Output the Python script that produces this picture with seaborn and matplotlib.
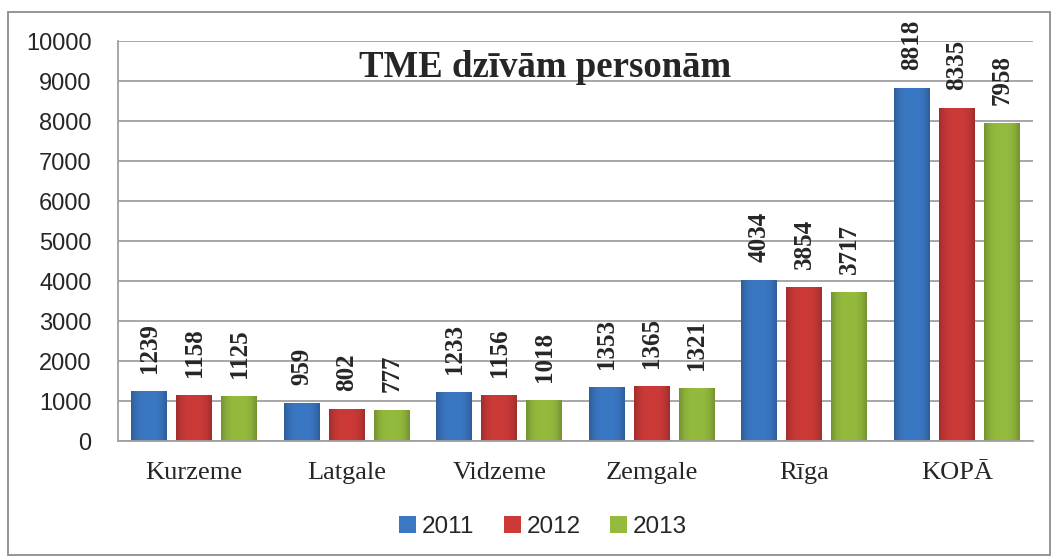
import numpy as np
import pandas as pd
import seaborn as sns
from matplotlib import pyplot as plt
from matplotlib.colors import to_rgb
from matplotlib.patches import Rectangle, Patch

regions = ["Kurzeme", "Latgale", "Vidzeme", "Zemgale", "Rīga", "KOPĀ"]
years = ["2011", "2012", "2013"]
v2011 = [1239, 959, 1233, 1353, 4034, 8818]
v2012 = [1158, 802, 1156, 1365, 3854, 8335]
v2013 = [1125, 777, 1018, 1321, 3717, 7958]
colors = ["#3b78c4", "#cc3a38", "#94bb3e"]

df = pd.DataFrame({
    "region": regions * 3,
    "year": [y for y in years for _ in regions],
    "value": v2011 + v2012 + v2013,
})

sns.set_style("white")
plt.rcParams["font.family"] = ["Liberation Sans", "DejaVu Sans"]

fig = plt.figure(figsize=(10.55, 5.6), dpi=100)
ax = fig.add_axes([118 / 1055, 1 - 441 / 560, 915 / 1055, 400 / 560])

sns.barplot(data=df, x="region", y="value", hue="year", palette=colors,
            width=0.885, gap=0.2, ax=ax, legend=False, saturation=1,
            edgecolor="none")

ax.set_ylim(0, 10000)
ax.set_xlim(-0.5, 5.5)


def shade(col):
    # soft darkening towards the bar edges, like the office bevel look
    base = np.array(to_rgb(col))
    t = np.linspace(-1, 1, 40)
    k = 1 - 0.22 * np.abs(t) ** 3
    return (base[None, :] * k[:, None])[None, :, :]


# labels above the bars, plus the shading
for cont, col in zip(ax.containers, colors):
    img = shade(col)
    for bar in cont:
        h = bar.get_height()
        x0 = bar.get_x()
        w = bar.get_width()
        im = ax.imshow(img, extent=(x0, x0 + w, 0, h), aspect="auto",
                       interpolation="bilinear", zorder=bar.get_zorder() + 0.1)
        im.set_clip_path(bar)
        ax.annotate(f"{int(h)}", (x0 + w / 2, h),
                    xytext=(0, 13), textcoords="offset points",
                    rotation=90, ha="center", va="bottom",
                    fontsize=18, fontweight="bold", family="Liberation Serif")

ax.set_ylim(0, 10000)
ax.set_xlim(-0.5, 5.5)
ax.set_yticks(range(0, 10001, 1000))
ax.yaxis.grid(True, color="#a0a0a0", linewidth=1.3)
ax.set_axisbelow(True)
ax.set_xlabel("")
ax.set_ylabel("")
for s in ["top", "right"]:
    ax.spines[s].set_visible(False)
for s in ["left", "bottom"]:
    ax.spines[s].set_color("#a0a0a0")
    ax.spines[s].set_linewidth(1.3)
ax.tick_params(axis="y", length=0, pad=19, labelsize=17)
ax.tick_params(axis="x", length=0, pad=15)
for t in ax.get_xticklabels():
    t.set_fontfamily("Liberation Serif")
    t.set_fontsize(19)

ax.text(0.467, 0.91, "TME dzīvām personām", transform=ax.transAxes,
        ha="center", va="baseline", fontsize=26.5, fontweight="bold",
        family="Liberation Serif")

handles = [Patch(facecolor=c, edgecolor="none") for c in colors]
fig.legend(handles, years, loc="center", bbox_to_anchor=(543 / 1055, 1 - 527 / 560),
           ncol=3, frameon=False, fontsize=17.5, handlelength=0.7,
           handleheight=0.7, handletextpad=0.25, columnspacing=1.2)

fig.patches.append(Rectangle((8 / 1055, 1 - 555 / 560), 1042 / 1055, 543 / 560,
                             transform=fig.transFigure, fill=False,
                             edgecolor="#8c8c8c", linewidth=1.3))

fig.savefig("out.png", dpi=100)
